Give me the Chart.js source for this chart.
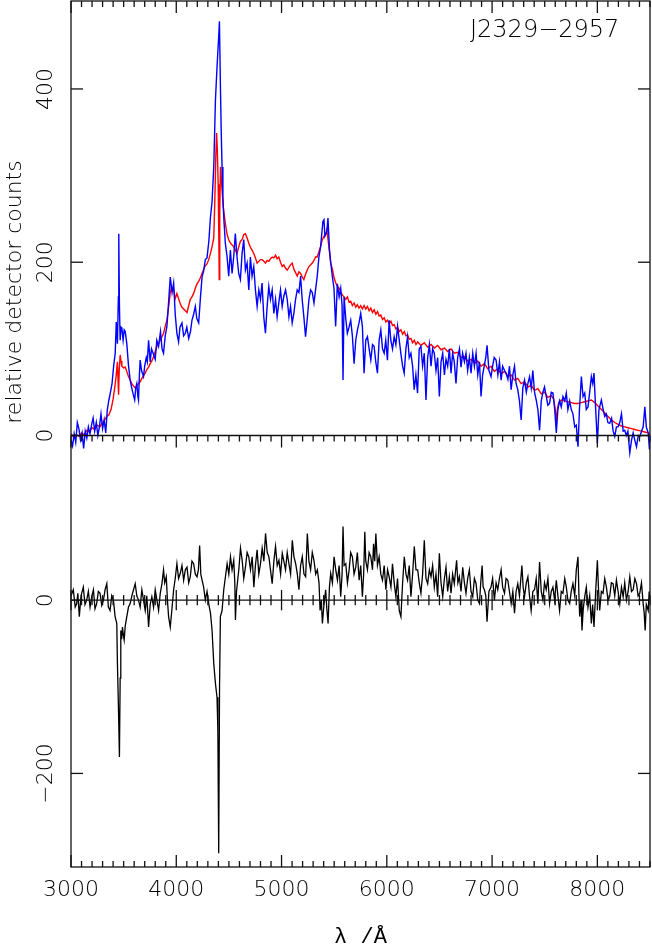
<!DOCTYPE html>
<html>
<head>
<meta charset="utf-8">
<script src="https://cdn.jsdelivr.net/npm/chart.js@4.4.0/dist/chart.umd.min.js"></script>
<style>
  html, body { margin: 0; padding: 0; background: #fff; }
</style>
</head>
<body>
<canvas id="myChart" width="652" height="952"></canvas>
<script>
// wavelength range and tick labels
const xMin = 3000
const xMax = 8500
const xTicks = [3000, 4000, 5000, 6000, 7000, 8000]
const topTicks = [0, 200, 400]
const lowTicks = [0, -200]
const topRange = [0, 501.5]
const lowRange = [-308, 190]
const objectName = 'J2329\u22122957'

// [wavelength, counts]
const redSpectrum = [[3000,2],[3025,-2],[3050,1],[3075,-1],[3100,3],[3125,1],[3150,6],[3175,4],[3200,9],[3225,7],[3250,12],[3275,10],[3300,15],[3320,18],[3340,22],[3360,24],[3380,30],[3400,42],[3415,55],[3430,70],[3441,85],[3448,60],[3452,47],[3458,75],[3467,93],[3475,86],[3483,80],[3500,78],[3515,79],[3530,74],[3546,68],[3562,64],[3578,60],[3594,57],[3610,55],[3625,57],[3641,60],[3657,62],[3673,66],[3689,69],[3705,72],[3720,76],[3737,79],[3752,83],[3768,86],[3784,91],[3800,97],[3816,103],[3832,106],[3848,110],[3864,114],[3879,118],[3895,126],[3911,133],[3927,148],[3943,165],[3952,170],[3960,167],[3975,168],[3990,158],[4006,164],[4022,158],[4038,152],[4054,148],[4070,146],[4086,144],[4102,142],[4118,150],[4133,157],[4149,160],[4165,164],[4181,170],[4197,175],[4213,178],[4229,182],[4245,187],[4260,192],[4276,196],[4292,198],[4308,203],[4324,210],[4340,218],[4356,228],[4366,270],[4375,320],[4383,349],[4390,330],[4398,290],[4404,230],[4408,180],[4413,260],[4420,310],[4430,292],[4445,265],[4466,245],[4483,232],[4498,226],[4515,222],[4530,220],[4546,218],[4562,214],[4577,210],[4594,218],[4609,224],[4625,226],[4641,232],[4657,233],[4673,228],[4689,222],[4705,217],[4720,214],[4736,210],[4752,205],[4768,199],[4784,201],[4800,203],[4815,203],[4832,201],[4848,199],[4863,202],[4879,201],[4895,204],[4911,206],[4927,205],[4943,208],[4958,204],[4974,206],[4990,200],[5006,195],[5022,197],[5038,193],[5054,191],[5070,194],[5085,197],[5101,199],[5117,192],[5133,188],[5149,184],[5165,189],[5181,187],[5196,183],[5212,180],[5228,186],[5244,191],[5260,195],[5276,197],[5292,199],[5308,202],[5323,206],[5339,206],[5355,212],[5371,218],[5387,226],[5403,230],[5419,232],[5430,237],[5442,226],[5455,212],[5467,199],[5483,192],[5499,182],[5515,176],[5531,172],[5547,170],[5562,166],[5578,162],[5594,160],[5610,157],[5626,160],[5641,154],[5657,155],[5673,150],[5689,153],[5705,148],[5720,151],[5736,147],[5752,150],[5768,146],[5784,150],[5800,146],[5816,149],[5832,144],[5848,147],[5864,142],[5880,145],[5896,140],[5912,143],[5927,138],[5943,139],[5959,134],[5975,136],[5991,131],[6007,133],[6022,129],[6039,132],[6054,127],[6070,128],[6086,123],[6102,125],[6118,120],[6134,122],[6150,117],[6166,120],[6182,115],[6197,116],[6213,111],[6229,112],[6245,107],[6261,110],[6277,105],[6293,108],[6324,104],[6356,107],[6388,102],[6420,105],[6451,101],[6483,104],[6515,99],[6547,101],[6578,97],[6610,100],[6641,95],[6673,96],[6705,90],[6737,91],[6768,86],[6800,88],[6832,83],[6864,86],[6895,80],[6927,83],[6959,77],[6990,80],[7022,74],[7054,77],[7086,71],[7118,74],[7149,68],[7181,70],[7213,64],[7244,66],[7276,60],[7308,62],[7340,56],[7371,58],[7403,52],[7435,54],[7467,48],[7498,50],[7530,44],[7562,46],[7585,42],[7600,30],[7610,16],[7620,30],[7633,38],[7657,41],[7689,40],[7720,39],[7752,38],[7784,37],[7816,37],[7848,38],[7880,39],[7911,40],[7943,41],[7975,38],[8006,34],[8038,30],[8070,26],[8101,22],[8133,18],[8165,15],[8197,13],[8229,11],[8260,10],[8292,9],[8324,8],[8356,7],[8387,6],[8419,5],[8451,4],[8483,3],[8500,2]]

const blueSpectrum = [[3000,-5],[3015,-12],[3030,2],[3045,-8],[3060,15],[3075,8],[3090,-5],[3105,3],[3120,-15],[3135,5],[3150,-3],[3165,10],[3180,2],[3195,12],[3210,20],[3225,5],[3240,15],[3255,0],[3270,10],[3285,25],[3300,8],[3315,18],[3330,3],[3345,30],[3360,41],[3375,50],[3390,60],[3405,80],[3420,95],[3430,131],[3441,106],[3450,160],[3454,233],[3460,150],[3467,110],[3475,125],[3483,124],[3495,110],[3505,122],[3515,120],[3530,106],[3546,81],[3562,64],[3575,56],[3590,48],[3605,41],[3615,55],[3625,60],[3635,45],[3641,41],[3650,70],[3657,87],[3670,75],[3689,68],[3700,80],[3715,90],[3725,85],[3737,110],[3752,85],[3765,100],[3780,95],[3800,88],[3815,110],[3832,103],[3850,120],[3865,100],[3879,95],[3895,115],[3911,126],[3925,150],[3943,183],[3960,165],[3975,176],[3990,140],[4006,118],[4022,108],[4035,125],[4054,130],[4070,115],[4086,118],[4100,125],[4118,112],[4135,120],[4149,133],[4165,140],[4181,149],[4195,135],[4213,130],[4230,160],[4245,183],[4260,190],[4276,203],[4292,205],[4310,225],[4324,251],[4340,270],[4356,310],[4372,387],[4385,420],[4394,441],[4403,460],[4410,478],[4419,406],[4427,350],[4435,310],[4443,275],[4451,252],[4466,222],[4482,207],[4498,184],[4514,214],[4530,187],[4546,207],[4561,233],[4577,206],[4593,187],[4609,180],[4625,210],[4641,226],[4657,191],[4673,199],[4689,168],[4704,206],[4720,184],[4736,195],[4752,168],[4768,149],[4784,168],[4800,157],[4815,176],[4831,137],[4847,118],[4863,149],[4879,172],[4895,157],[4911,168],[4927,141],[4943,157],[4958,137],[4974,153],[4990,168],[5006,149],[5022,161],[5038,168],[5054,157],[5070,137],[5085,149],[5101,130],[5117,141],[5133,157],[5149,168],[5165,165],[5181,184],[5196,157],[5212,137],[5228,114],[5244,134],[5260,157],[5276,168],[5292,165],[5308,153],[5323,168],[5339,184],[5355,206],[5371,218],[5393,247],[5403,249],[5412,230],[5430,235],[5441,251],[5455,215],[5467,200],[5483,183],[5498,170],[5514,126],[5530,175],[5547,160],[5562,170],[5575,150],[5584,64],[5594,160],[5610,135],[5625,118],[5641,125],[5657,133],[5673,115],[5689,83],[5705,110],[5721,122],[5736,130],[5752,141],[5768,126],[5784,72],[5800,110],[5816,114],[5832,100],[5848,87],[5864,105],[5879,103],[5895,85],[5911,72],[5927,110],[5943,122],[5959,100],[5975,95],[5990,110],[6006,87],[6022,133],[6038,110],[6054,100],[6070,114],[6086,105],[6102,126],[6118,110],[6133,95],[6150,80],[6165,72],[6181,100],[6197,114],[6213,90],[6229,95],[6245,80],[6260,53],[6276,70],[6292,49],[6308,100],[6324,103],[6340,80],[6356,95],[6372,41],[6388,90],[6404,105],[6420,80],[6435,100],[6451,95],[6467,75],[6483,90],[6499,45],[6515,85],[6531,95],[6547,70],[6562,88],[6578,80],[6594,100],[6610,72],[6625,95],[6641,85],[6657,60],[6673,90],[6690,100],[6705,79],[6720,95],[6737,85],[6752,95],[6768,75],[6784,90],[6800,72],[6816,95],[6832,80],[6848,95],[6864,70],[6880,85],[6895,45],[6910,70],[6925,80],[6940,90],[6952,104],[6970,75],[6990,68],[7005,80],[7020,90],[7038,87],[7055,70],[7070,85],[7086,64],[7100,80],[7118,75],[7133,72],[7150,65],[7165,80],[7181,53],[7197,70],[7213,80],[7228,60],[7244,53],[7260,40],[7276,18],[7292,55],[7308,64],[7325,50],[7340,60],[7356,68],[7372,55],[7387,75],[7403,50],[7419,41],[7435,30],[7451,6],[7467,40],[7483,50],[7498,56],[7515,45],[7530,35],[7546,37],[7562,50],[7578,49],[7595,30],[7610,3],[7625,30],[7641,40],[7657,33],[7673,45],[7690,40],[7705,49],[7720,30],[7737,40],[7752,30],[7768,25],[7785,10],[7800,12],[7816,-13],[7830,30],[7848,68],[7864,45],[7880,49],[7895,30],[7911,33],[7927,50],[7943,68],[7956,60],[7968,72],[7980,40],[8000,-9],[8015,30],[8038,41],[8055,30],[8070,22],[8085,25],[8100,15],[8117,14],[8135,20],[8150,5],[8165,-1],[8181,10],[8197,10],[8213,15],[8229,25],[8245,5],[8260,6],[8275,0],[8290,5],[8308,-20],[8325,-5],[8340,3],[8355,-5],[8372,-13],[8388,0],[8403,-1],[8420,5],[8435,10],[8451,33],[8465,10],[8483,3],[8495,-16],[8500,-5]]

const diffSpectrum = [[3000,5],[3022,12],[3040,-8],[3054,-4],[3065,8],[3079,-19],[3095,5],[3117,15],[3133,-5],[3149,0],[3165,10],[3181,-8],[3197,4],[3213,12],[3228,-10],[3244,-4],[3260,10],[3276,8],[3292,-6],[3308,0],[3324,12],[3340,19],[3355,-8],[3371,-12],[3387,5],[3403,0],[3419,-19],[3435,-27],[3441,-73],[3450,-120],[3460,-181],[3467,-90],[3473,-35],[3481,-45],[3489,-31],[3497,-40],[3505,-46],[3515,-30],[3530,-19],[3546,-8],[3562,-4],[3578,5],[3594,12],[3610,19],[3625,5],[3641,0],[3657,-8],[3673,12],[3689,0],[3705,-12],[3720,5],[3737,-31],[3752,-5],[3768,4],[3784,-8],[3800,12],[3816,0],[3832,-12],[3848,8],[3864,19],[3879,35],[3890,20],[3905,27],[3916,0],[3927,-19],[3943,-31],[3959,-10],[3975,12],[3990,25],[4006,42],[4022,25],[4038,31],[4054,40],[4070,23],[4086,35],[4102,38],[4118,20],[4133,27],[4149,45],[4165,42],[4181,30],[4197,27],[4210,35],[4222,63],[4233,30],[4245,23],[4260,15],[4276,0],[4292,10],[4308,-4],[4325,-15],[4340,-35],[4356,-73],[4372,-96],[4387,-112],[4395,-150],[4403,-292],[4411,-100],[4419,-19],[4435,-12],[4451,12],[4467,27],[4483,42],[4499,30],[4515,50],[4530,35],[4546,46],[4556,20],[4562,-23],[4572,10],[4594,35],[4610,60],[4626,46],[4641,25],[4657,38],[4673,55],[4689,50],[4705,35],[4721,50],[4737,15],[4752,40],[4768,58],[4784,30],[4800,42],[4816,60],[4832,45],[4848,77],[4864,55],[4880,50],[4895,35],[4911,19],[4927,45],[4943,62],[4959,40],[4975,46],[4991,30],[5007,54],[5022,45],[5038,35],[5054,55],[5070,42],[5086,30],[5102,69],[5118,50],[5134,42],[5150,30],[5165,12],[5181,40],[5197,50],[5213,30],[5229,27],[5245,77],[5260,45],[5276,35],[5292,55],[5308,46],[5324,30],[5340,35],[5356,20],[5366,-12],[5378,0],[5388,-27],[5403,-5],[5419,12],[5430,-10],[5442,-27],[5455,15],[5467,31],[5483,20],[5499,50],[5515,35],[5531,23],[5547,40],[5562,4],[5575,30],[5584,85],[5594,40],[5610,42],[5626,20],[5642,35],[5657,55],[5673,50],[5689,30],[5705,38],[5720,55],[5737,23],[5752,40],[5768,4],[5780,30],[5791,79],[5800,45],[5816,35],[5832,55],[5848,50],[5864,35],[5874,65],[5885,45],[5896,77],[5911,40],[5927,50],[5943,30],[5959,23],[5975,40],[5991,12],[6007,35],[6022,27],[6039,15],[6054,42],[6070,20],[6086,4],[6102,25],[6118,-12],[6134,-19],[6150,20],[6166,50],[6182,30],[6197,23],[6213,40],[6229,4],[6245,30],[6261,62],[6277,35],[6293,35],[6308,20],[6324,8],[6340,30],[6356,69],[6372,25],[6388,19],[6404,35],[6420,27],[6435,40],[6451,15],[6467,30],[6483,4],[6499,54],[6515,20],[6531,4],[6547,25],[6562,38],[6578,10],[6594,27],[6610,8],[6625,30],[6641,19],[6663,46],[6675,20],[6689,27],[6705,10],[6721,38],[6737,20],[6752,8],[6768,25],[6784,35],[6800,10],[6816,4],[6832,25],[6848,19],[6864,0],[6880,-4],[6892,20],[6905,40],[6915,15],[6927,12],[6940,5],[6952,-25],[6970,10],[6990,15],[7005,25],[7022,0],[7038,20],[7054,12],[7070,25],[7086,35],[7100,15],[7118,8],[7133,25],[7149,23],[7165,10],[7181,-4],[7197,10],[7213,-15],[7228,10],[7244,19],[7260,5],[7283,40],[7295,15],[7308,4],[7325,20],[7340,27],[7355,5],[7371,-12],[7387,10],[7403,12],[7419,25],[7435,-4],[7451,44],[7467,10],[7483,0],[7498,20],[7514,12],[7530,25],[7546,-4],[7562,10],[7578,15],[7594,0],[7610,23],[7625,5],[7641,-12],[7657,10],[7673,8],[7690,25],[7705,15],[7720,0],[7737,-4],[7752,10],[7768,19],[7785,5],[7800,35],[7816,50],[7824,10],[7832,-19],[7845,0],[7854,-35],[7866,-10],[7880,4],[7895,15],[7911,-8],[7927,5],[7943,-27],[7955,-5],[7968,-31],[7984,10],[8000,46],[8010,15],[8022,-12],[8038,10],[8054,8],[8070,25],[8086,15],[8101,0],[8117,4],[8133,20],[8149,19],[8165,5],[8181,23],[8197,10],[8213,-4],[8229,15],[8245,4],[8260,20],[8276,0],[8292,10],[8308,27],[8324,10],[8340,12],[8356,25],[8372,19],[8387,5],[8403,8],[8419,20],[8435,-4],[8445,-15],[8454,-35],[8465,-5],[8483,-12],[8492,10],[8500,0]]

const ink = '#111'
const textInk = '#000'
const tickFont = '200 22px "DejaVu Sans", sans-serif'
const titleFont = '200 24px "DejaVu Sans", sans-serif'

const toPoints = (list) => list.map(p => ({x: p[0], y: p[1]}))

const line = (ctx, x1, y1, x2, y2) => {
  ctx.beginPath()
  ctx.moveTo(x1, y1)
  ctx.lineTo(x2, y2)
  ctx.stroke()
}

const upText = (ctx, text, x, y) => {
  ctx.save()
  ctx.translate(x, y)
  ctx.rotate(-Math.PI / 2)
  ctx.fillText(text, 0, 0)
  ctx.restore()
}

// frame, inward ticks and all labels, placed with the chart scales
const frame = {
  id: 'frame',
  afterDatasetsDraw(chart) {
    const {ctx, chartArea: a, scales} = chart
    const x = scales.x
    const yTop = scales.yTop
    const yLow = scales.yLow
    const mid = yTop.getPixelForValue(0)
    const zero = yLow.getPixelForValue(0)

    ctx.save()
    ctx.strokeStyle = ink
    ctx.lineWidth = 1.3
    ctx.strokeRect(a.left, a.top, a.right - a.left, a.bottom - a.top)
    line(ctx, a.left, mid, a.right, mid)
    line(ctx, a.left, zero, a.right, zero)

    for (let w = xMin; w <= xMax; w += 100) {
      const px = x.getPixelForValue(w)
      const len = w % 1000 === 0 ? 12 : 6
      line(ctx, px, a.top, px, a.top + len)
      line(ctx, px, mid, px, mid + len)
      line(ctx, px, zero - len * 0.85, px, zero + len * 0.85)
      line(ctx, px, a.bottom, px, a.bottom - len)
    }
    topTicks.forEach(v => {
      const py = yTop.getPixelForValue(v)
      line(ctx, a.left, py, a.left + 12, py)
      line(ctx, a.right, py, a.right - 12, py)
    })
    lowTicks.forEach(v => {
      const py = yLow.getPixelForValue(v)
      line(ctx, a.left, py, a.left + 12, py)
      line(ctx, a.right, py, a.right - 12, py)
    })

    ctx.fillStyle = textInk
    ctx.font = tickFont
    ctx.textAlign = 'center'
    ctx.textBaseline = 'middle'
    topTicks.forEach(v => upText(ctx, String(v).replace('-', '\u2212'), 46, yTop.getPixelForValue(v)))
    lowTicks.forEach(v => upText(ctx, String(v).replace('-', '\u2212'), 46, yLow.getPixelForValue(v)))
    upText(ctx, 'relative detector counts', 15, 292)
    xTicks.forEach(v => ctx.fillText(String(v), x.getPixelForValue(v), 890))

    ctx.font = '22px "Liberation Mono", monospace'
    ctx.fillText('\u03bb /\u00c5', (a.left + a.right) / 2, 937)

    ctx.font = titleFont
    ctx.textAlign = 'left'
    ctx.fillText(objectName, 470, 31)
    ctx.restore()
  }
}

// top-panel spectra may dip a little below their zero line, as in the original
const topClip = {left: 0, right: 0, top: 0, bottom: 30}

const data = {
  datasets: [
    {
      label: 'blue',
      data: toPoints(blueSpectrum),
      yAxisID: 'yTop',
      borderColor: '#0000ff',
      borderWidth: 1.4,
      clip: topClip
    },
    {
      label: 'red',
      data: toPoints(redSpectrum),
      yAxisID: 'yTop',
      borderColor: '#ff0000',
      borderWidth: 1.4,
      clip: topClip
    },
    {
      label: 'difference',
      data: toPoints(diffSpectrum),
      yAxisID: 'yLow',
      borderColor: '#000000',
      borderWidth: 1.3
    }
  ]
}

const config = {
  type: 'line',
  data,
  options: {
    responsive: false,
    animation: false,
    devicePixelRatio: 1,
    elements: {point: {radius: 0}, line: {tension: 0}},
    layout: {padding: {left: 71, right: 2, top: 1, bottom: 85}},
    plugins: {legend: {display: false}, tooltip: {enabled: false}},
    scales: {
      x: {type: 'linear', min: xMin, max: xMax, display: false},
      yLow: {type: 'linear', position: 'left', stack: 'panels', stackWeight: lowRange[1] - lowRange[0],
        min: lowRange[0], max: lowRange[1], display: false},
      yTop: {type: 'linear', position: 'left', stack: 'panels', stackWeight: topRange[1] - topRange[0],
        min: topRange[0], max: topRange[1], display: false}
    }
  },
  plugins: [frame]
}

const myChart = new Chart(document.getElementById('myChart'), config)
</script>
</body>
</html>
